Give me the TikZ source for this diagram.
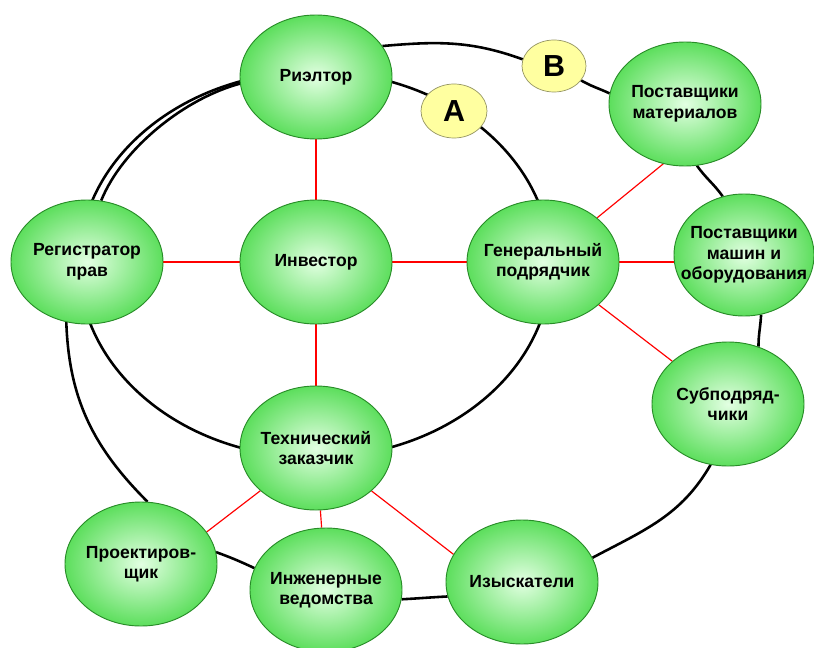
\documentclass[tikz,border=0pt]{standalone}
\usepackage{fontspec}
\setmainfont{Liberation Sans}
\usetikzlibrary{shapes.geometric,backgrounds}
\definecolor{leafin}{RGB}{226,255,226}
\definecolor{leafout}{RGB}{50,212,50}
\definecolor{leafline}{RGB}{40,140,40}
\definecolor{sunfill}{RGB}{255,255,160}
\definecolor{sunline}{RGB}{150,150,100}
\pgfdeclareradialshading{leaf}{\pgfpoint{0bp}{0bp}}{color(0bp)=(leafin); color(33bp)=(leafout); color(50bp)=(leafout)}
\begin{document}
\begin{tikzpicture}[x=0.03cm, y=0.03cm,
  party/.style={draw=leafline, line width=0.8pt, ellipse, shading=leaf, minimum width=4.56cm, minimum height=3.72cm, inner xsep=-18pt, inner ysep=0pt, align=center, font=\fontsize{15}{17.5}\selectfont\bfseries},
  letter/.style={draw=sunline, line width=0.6pt, ellipse, fill=sunfill, minimum width=1.98cm, minimum height=1.62cm, inner sep=0pt, font=\fontsize{26}{26}\selectfont\bfseries},
  link/.style={red, line width=1pt},
  ring/.style={line width=2.2pt}]
  \useasboundingbox (0, 0) rectangle (814, -648);

  \node[party] at (316, -77) (rieltor) {Риэлтор};
  \node[party] at (87, -262) (reg) {Регистратор\\прав};
  \node[party] at (316, -262) (inv) {Инвестор};
  \node[party] at (543, -262) (gen) {Генеральный\\подрядчик};
  \node[party] at (685, -104) (postmat) {Поставщики\\материалов};
  \node[party, minimum width=4.2cm, minimum height=3.66cm] at (744, -255) (postmash) {Поставщики\\машин и\\оборудования};
  \node[party] at (728, -404) (subpod) {Субподряд-\\чики};
  \node[party] at (316, -448) (tech) {Технический\\заказчик};
  \node[party] at (141, -564) (proekt) {Проектиров-\\щик};
  \node[party] at (326, -590) (inzh) {Инженерные\\ведомства};
  \node[party] at (522, -582) (izysk) {Изыскатели};

  \node[letter] at (454, -111) (a) {А};
  \node[letter, minimum width=1.92cm, minimum height=1.56cm] at (554, -66) (b) {В};

  \begin{scope}[on background layer]
    \draw[ring] (inv.center) ++(-1, -2.5) ellipse [x radius=7.08cm, y radius=5.79cm];

    \draw[ring] (reg.77) to[out=68, in=195, looseness=0.8] (rieltor.185);
    \draw[ring] (rieltor.25) to[out=5, in=160] (b.168);
    \draw[ring] (b.332) to[out=-30, in=155] (postmat.172);
    \draw[ring] (postmat.281) to[out=-55, in=125] (postmash.110);
    \draw[ring] (postmash.286) to[out=-93, in=90] (subpod.62);
    \draw[ring] (subpod.254) to[out=-120, in=28] (izysk.19);
    \draw[ring] (izysk.191) to[out=183, in=3] (inzh.353);
    \draw[ring] (inzh.163) to[out=155, in=-20] (proekt.9);
    \draw[ring] (proekt.84) to[out=135, in=-88] (reg.251);

    \draw (rieltor) edge[link] (inv);
    \draw (reg) edge[link] (inv);
    \draw (inv) edge[link] (gen);
    \draw (inv) edge[link] (tech);
    \draw (gen) edge[link] (postmat.250);
    \draw (gen) edge[link] (gen -| postmash.west);
    \draw (gen) edge[link] (subpod);
    \draw (tech) edge[link] (proekt.26);
    \draw (tech) edge[link] (inzh);
    \draw (tech) edge[link] (izysk.158);
  \end{scope}
\end{tikzpicture}
\end{document}
